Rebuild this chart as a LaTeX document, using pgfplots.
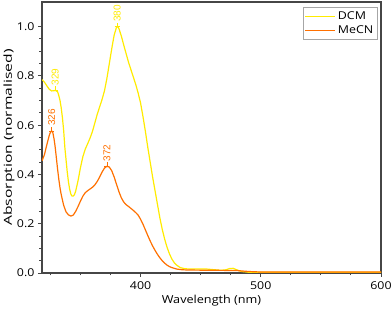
\documentclass[border=0pt]{standalone}
\usepackage{pgfplots}
\pgfplotsset{compat=1.18}
\usepackage{fontspec}
\setmainfont{Open Sans}
\newfontfamily\hfont{Open Sans}[FakeStretch=1.15]
\newfontfamily\ylabfont{Open Sans}[FakeStretch=1.42]
\newfontfamily\annfont{Liberation Sans}
\definecolor{dcm}{RGB}{255,235,0}
\definecolor{mecn}{RGB}{255,112,0}
\definecolor{frame}{RGB}{70,70,70}
\begin{document}
\begin{tikzpicture}
\useasboundingbox (-42pt,-39pt) rectangle (350pt,273pt);
\begin{axis}[
  at={(0pt,0pt)}, anchor=south west,
  scale only axis, width=339pt, height=271pt,
  xmin=318, xmax=600, ymin=0, ymax=1.1,
  xtick={400,500,600}, minor xtick={325,350,375,425,450,475,525,550,575},
  ytick={0,0.2,0.4,0.6,0.8,1.0}, minor y tick num=3,
  tick pos=left, tick align=outside,
  major tick length=4pt, minor tick length=2.5pt,
  every tick/.style={frame, line width=0.9pt},
  axis line style={frame, line width=1.1pt},
  /pgf/number format/assume math mode=true,
  ticklabel style={font=\hfont\fontsize{10.8}{12}\selectfont},
  xticklabel style={yshift=-1pt},
  yticklabel style={xshift=0pt, /pgf/number format/.cd, fixed, fixed zerofill, precision=1},
  xlabel={Wavelength (nm)},
  ylabel={Absorption (normalised)},
  xlabel style={font=\hfont\fontsize{11}{12}\selectfont, yshift=1pt},
  ylabel style={font=\ylabfont\fontsize{11}{12}\selectfont, yshift=-4.5pt},
  legend style={at={(1,1)}, anchor=north east, xshift=-3.5pt, yshift=-5.5pt,
    draw=gray!70, font=\hfont\fontsize{10.8}{12}\selectfont, inner sep=2pt, row sep=1pt},
  legend cell align=left,
  legend image code/.code={\draw[#1] (0pt,0pt) -- (30pt,0pt);},
]
\addplot[dcm, line width=1.2pt] coordinates {
(318,0.785) (320,0.775) (322,0.760) (324,0.746) (326,0.739) (328,0.740) (329,0.741)
(330,0.739) (331,0.735) (332,0.720) (333,0.700) (334,0.670) (335,0.630) (336,0.580)
(337,0.510) (338,0.460) (339,0.410) (340,0.370) (341,0.340) (342,0.320) (343,0.312)
(344,0.312) (345,0.318) (346,0.332) (348,0.375) (350,0.428) (352,0.472) (354,0.503)
(356,0.525) (358,0.548) (360,0.575) (362,0.610) (364,0.645) (366,0.675) (368,0.705)
(370,0.740) (372,0.790) (374,0.850) (376,0.910) (378,0.965) (380,0.998) (381,1.000)
(382,0.992) (384,0.962) (386,0.925) (388,0.890) (390,0.855) (392,0.825) (394,0.795)
(396,0.765) (398,0.730) (400,0.690) (402,0.635) (404,0.575) (406,0.510) (408,0.450)
(410,0.390) (412,0.335) (414,0.280) (416,0.225) (418,0.178) (420,0.138) (422,0.105)
(424,0.078) (426,0.057) (428,0.042) (430,0.032) (433,0.022) (437,0.017) (445,0.016)
(455,0.016) (462,0.013) (467,0.011) (471,0.013) (474,0.018) (477,0.019) (480,0.013)
(484,0.006) (490,0.003) (520,0.003) (560,0.003) (600,0.003)
};
\addlegendentry{DCM}
\addplot[mecn, line width=1.2pt] coordinates {
(318,0.455) (320,0.480) (322,0.520) (324,0.558) (325,0.571) (326,0.577) (327,0.570)
(328,0.545) (329,0.510) (330,0.465) (331,0.420) (332,0.380) (333,0.345) (334,0.318)
(336,0.275) (338,0.248) (340,0.236) (342,0.231) (344,0.235) (346,0.250) (348,0.270)
(350,0.292) (352,0.312) (354,0.326) (356,0.334) (358,0.341) (360,0.348) (362,0.358)
(364,0.372) (366,0.390) (368,0.410) (370,0.426) (372,0.433) (374,0.430) (376,0.415)
(378,0.390) (380,0.360) (382,0.330) (384,0.305) (386,0.288) (388,0.277) (390,0.270)
(392,0.262) (394,0.254) (396,0.245) (398,0.235) (400,0.218) (402,0.198) (404,0.175)
(406,0.152) (408,0.130) (410,0.110) (412,0.092) (414,0.076) (416,0.062) (418,0.050)
(420,0.040) (422,0.032) (424,0.026) (426,0.022) (430,0.016) (435,0.013) (440,0.012)
(460,0.011) (480,0.010) (490,0.006) (500,0.004) (550,0.004) (600,0.004)
};
\addlegendentry{MeCN}
% peak annotations
\draw[dcm, line width=0.6pt] ([xshift=-2.5pt]axis cs:329,0.741) -- ([xshift=2.5pt]axis cs:329,0.741);
\draw[dcm, line width=0.6pt] (axis cs:329,0.741) -- ([yshift=4pt]axis cs:329,0.741)
  node[rotate=90, anchor=west, inner sep=0.6pt, font=\annfont\fontsize{10}{11}\selectfont] {329};
\draw[dcm, line width=0.6pt] ([xshift=-2.5pt]axis cs:380.5,1.0) -- ([xshift=2.5pt]axis cs:380.5,1.0);
\draw[dcm, line width=0.6pt] (axis cs:380.5,1.0) -- ([yshift=4pt]axis cs:380.5,1.0)
  node[rotate=90, anchor=west, inner sep=0.6pt, font=\annfont\fontsize{10}{11}\selectfont] {380};
\draw[mecn, line width=0.6pt] ([xshift=-2.5pt]axis cs:326,0.577) -- ([xshift=2.5pt]axis cs:326,0.577);
\draw[mecn, line width=0.6pt] (axis cs:326,0.577) -- ([yshift=4pt]axis cs:326,0.577)
  node[rotate=90, anchor=west, inner sep=0.6pt, font=\annfont\fontsize{10}{11}\selectfont] {326};
\draw[mecn, line width=0.6pt] ([xshift=-2.5pt]axis cs:372,0.433) -- ([xshift=2.5pt]axis cs:372,0.433);
\draw[mecn, line width=0.6pt] (axis cs:372,0.433) -- ([yshift=4pt]axis cs:372,0.433)
  node[rotate=90, anchor=west, inner sep=0.6pt, font=\annfont\fontsize{10}{11}\selectfont] {372};
\end{axis}
\end{tikzpicture}
\end{document}
